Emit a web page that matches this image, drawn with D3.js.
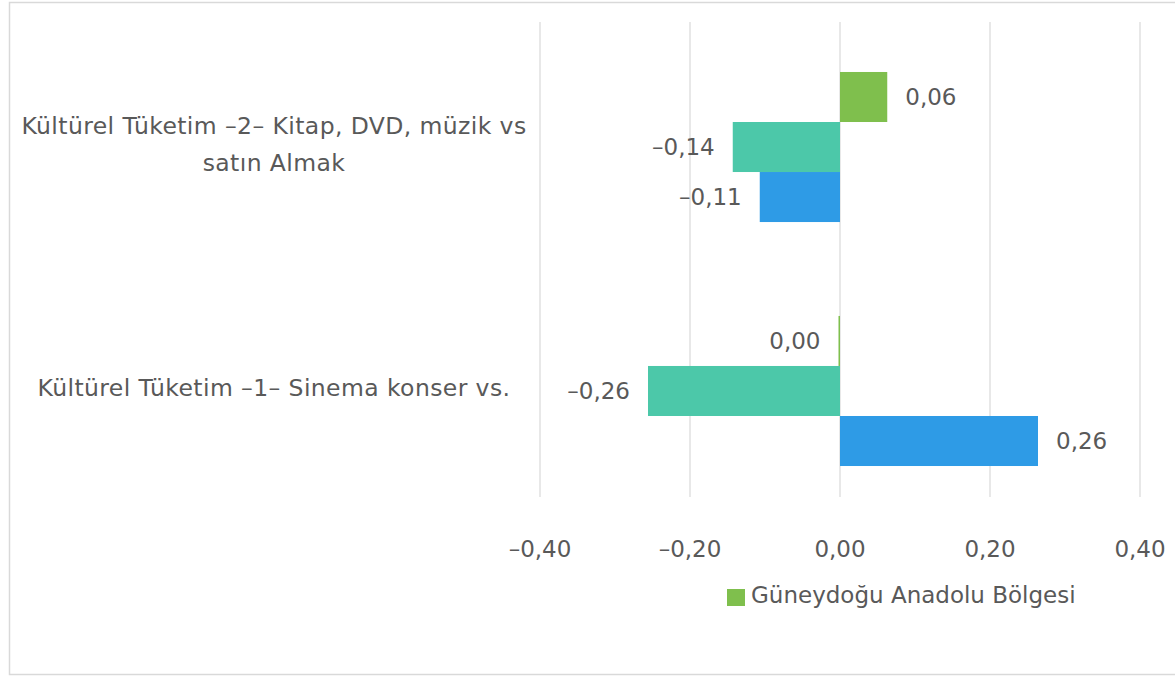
<!DOCTYPE html>
<html lang="tr">

<head>
  <meta charset="UTF-8">
  <title>Kültürel Tüketim</title>
  <script src="https://d3js.org/d3.v7.min.js"></script>
  <style>
    body { margin: 0; background: #fff; }
    text { font-family: "DejaVu Sans", Verdana, sans-serif; fill: #595959; }
  </style>
</head>

<body>
  <svg id="chart" width="1175" height="679"></svg>

  <script>
    // categories, top to bottom
    const categories = [
      "Kültürel Tüketim –2– Kitap, DVD, müzik vs|satın Almak",
      "Kültürel Tüketim –1– Sinema konser vs."
    ];
    // series, drawn top to bottom inside each group
    const seriesNames = ["Güneydoğu Anadolu Bölgesi", "Seri 2", "Seri 3"];
    const seriesColors = ["#7fbf4d", "#4cc8a9", "#2e9be6"];
    // values per series, same order as categories
    const greenValues = [0.063, -0.002];
    const tealValues = [-0.143, -0.256];
    const blueValues = [-0.107, 0.264];
    const xTicks = [-0.4, -0.2, 0, 0.2, 0.4];
    // only the first series shows in the legend (others are cut off)
    const legendSeries = ["Güneydoğu Anadolu Bölgesi"];

    const svg = d3.select("svg#chart");

    // outer frame
    svg.append("rect")
      .attr("x", 9.5).attr("y", 2.5)
      .attr("width", 1180).attr("height", 672)
      .attr("fill", "none")
      .attr("stroke", "#d9d9d9")
      .attr("stroke-width", 1.5);

    const x = d3.scaleLinear().domain([-0.4, 0.4]).range([540, 1140]);
    const y = d3.scaleBand().domain(categories).range([25, 513])
      .paddingInner(0.385).paddingOuter(0.1926);
    const ySub = d3.scaleBand().domain(seriesNames).range([0, y.bandwidth()]);

    const loc = d3.formatLocale({ decimal: ",", thousands: ".", grouping: [3], currency: ["", ""], minus: "–" });
    const fmt = loc.format(".2f");

    // vertical gridlines
    svg.append("g").selectAll("line").data(xTicks)
      .join("line")
      .attr("x1", d => x(d)).attr("x2", d => x(d))
      .attr("y1", 22).attr("y2", 497)
      .attr("stroke", "#d9d9d9")
      .attr("stroke-width", 1.2);

    // x axis tick labels
    svg.append("g").selectAll("text").data(xTicks)
      .join("text")
      .attr("x", d => x(d))
      .attr("y", 557)
      .attr("text-anchor", "middle")
      .attr("font-size", 23)
      .text(d => fmt(d));

    // flatten data
    const rows = [];
    categories.forEach((c, i) => {
      rows.push({ cat: c, s: seriesNames[0], v: greenValues[i], color: seriesColors[0] });
      rows.push({ cat: c, s: seriesNames[1], v: tealValues[i], color: seriesColors[1] });
      rows.push({ cat: c, s: seriesNames[2], v: blueValues[i], color: seriesColors[2] });
    });

    svg.append("g").selectAll("rect").data(rows)
      .join("rect")
      .attr("x", d => Math.min(x(0), x(d.v)))
      .attr("width", d => Math.abs(x(d.v) - x(0)))
      .attr("y", d => y(d.cat) + ySub(d.s))
      .attr("height", ySub.bandwidth())
      .attr("fill", d => d.color);

    // value labels
    svg.append("g").selectAll("text").data(rows)
      .join("text")
      .attr("x", d => d.v > 0 ? x(d.v) + 18 : x(d.v) - 18)
      .attr("y", d => y(d.cat) + ySub(d.s) + ySub.bandwidth() / 2)
      .attr("dy", "0.35em")
      .attr("text-anchor", d => d.v > 0 ? "start" : "end")
      .attr("font-size", 23)
      .text(d => fmt(d.v));

    // category labels (| marks a line break)
    const lh = 37;
    const catG = svg.append("g").selectAll("text").data(categories)
      .join("text")
      .attr("text-anchor", "middle")
      .attr("font-size", 23.5)
      .attr("letter-spacing", 0.4)
      .attr("y", d => y(d) + y.bandwidth() / 2 - 3);
    catG.each(function (d) {
      const lines = d.split("|");
      const top = -(lines.length - 1) * lh / 2;
      d3.select(this).selectAll("tspan").data(lines)
        .join("tspan")
        .attr("x", 274)
        .attr("dy", (l, i) => i === 0 ? top + 8 : lh)
        .text(l => l);
    });

    // legend
    const leg = svg.append("g").selectAll("g").data(legendSeries)
      .join("g");
    leg.append("rect")
      .attr("x", 727).attr("y", 589)
      .attr("width", 18).attr("height", 17)
      .attr("fill", (d, i) => seriesColors[i]);
    leg.append("text")
      .attr("x", 751).attr("y", 603)
      .attr("font-size", 23)
      .text(d => d);
  </script>

</body>

</html>
